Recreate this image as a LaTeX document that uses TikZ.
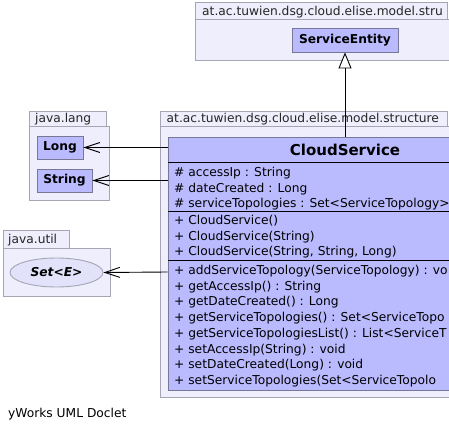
\documentclass[tikz,border=0pt]{standalone}
\usepackage{fontspec}
\setmainfont{DejaVu Sans}
\usetikzlibrary{arrows.meta,shapes.geometric}
\definecolor{pkgfill}{RGB}{238,238,252}
\definecolor{pkgline}{RGB}{165,165,182}
\definecolor{clsfill}{RGB}{186,186,255}
\definecolor{clsline}{RGB}{120,120,150}
\definecolor{elfill}{RGB}{226,226,250}
\tikzset{
  every node/.style={font=\fontsize{12.25}{14}\selectfont, inner sep=0pt},
  pkg/.style={draw=pkgline, fill=pkgfill, line width=0.9pt},
  pkgtext/.style={anchor=base west, text=black!85},
  box/.style={draw=clsline, fill=clsfill, line width=0.9pt, font=\fontsize{12.25}{14}\selectfont\bfseries},
  ell/.style={ellipse, draw=pkgline, fill=elfill, line width=0.9pt, font=\fontsize{12.25}{14}\selectfont\bfseries\itshape},
  member/.style={anchor=base west},
  sep/.style={draw=black, line width=0.9pt},
  dep/.style={draw=black, line width=0.9pt, -{Straight Barb[length=15pt,width=10pt,line width=0.9pt]}},
  inh/.style={draw=black, line width=0.9pt, -{Triangle[open,length=16pt,width=13pt,fill=white,line width=0.9pt]}},
}
\begin{document}
\begin{tikzpicture}[x=1pt,y=-1pt]
\useasboundingbox (0,0) rectangle (449,435);
\clip (0,0) rectangle (449,435);
\fill[white] (0,0) rectangle (449,435);
% top package
\draw[pkg] (195,2) rectangle (447,19.5);
\draw[pkg] (195,19.5) rectangle (495,60);
\node[pkgtext] (ptop) at (202,15.5) {at.ac.tuwien.dsg.cloud.elise.model.stru};
\node[box, minimum width=106pt, minimum height=24pt] (se) at (345,40) {ServiceEntity};
% java.lang package
\draw[pkg] (29,111) rectangle (106.5,126.5);
\draw[pkg] (29,126.5) rectangle (109.5,200);
\node[pkgtext] (plang) at (35,122.5) {java.lang};
\node[box, minimum width=46pt, minimum height=23pt] (long) at (60,147.5) {Long};
\node[box, minimum width=55pt, minimum height=23pt] (string) at (64.5,180.5) {String};
% java.util package
\draw[pkg] (3,230.5) rectangle (69,248);
\draw[pkg] (3,248) rectangle (110,296);
\node[pkgtext] (putil) at (8,243.5) {java.util};
\node[ell, minimum width=93pt, minimum height=29pt] (set) at (56.5,272.5) {Set<E>};
% main package
\draw[pkg] (160,111) rectangle (447,126.5);
\draw[pkg] (160,126.5) rectangle (540,397);
\node[pkgtext] (pmain) at (166.5,122.5) {at.ac.tuwien.dsg.cloud.elise.model.structure};
% class
\node[draw=clsline, fill=clsfill, line width=0.9pt, minimum width=354pt, minimum height=253pt] (cs) at (345,263.5) {};
\node[font=\fontsize{15}{18}\selectfont\bfseries] (title) at (345,149.5) {CloudService};
\draw[sep] (cs.west |- 0,162) -- (cs.east |- 0,162);
\draw[sep] (cs.west |- 0,211) -- (cs.east |- 0,211);
\draw[sep] (cs.west |- 0,260) -- (cs.east |- 0,260);
\node[member] (a1) at (174,176.5) {\# accessIp : String};
\node[member] (a2) at (174,192.2) {\# dateCreated : Long};
\node[member] (a3) at (174,207.9) {\# serviceTopologies : Set<ServiceTopology>};
\node[member] (c1) at (174,224.5) {+ CloudService()};
\node[member] (c2) at (174,240.2) {+ CloudService(String)};
\node[member] (c3) at (174,255.9) {+ CloudService(String, String, Long)};
\node[member] (o1) at (174,274.5) {+ addServiceTopology(ServiceTopology) : vo};
\node[member] (o2) at (174,290.2) {+ getAccessIp() : String};
\node[member] (o3) at (174,305.9) {+ getDateCreated() : Long};
\node[member] (o4) at (174,321.6) {+ getServiceTopologies() : Set<ServiceTopo};
\node[member] (o5) at (174,337.3) {+ getServiceTopologiesList() : List<ServiceT};
\node[member] (o6) at (174,353.0) {+ setAccessIp(String) : void};
\node[member] (o7) at (174,368.7) {+ setDateCreated(Long) : void};
\node[member] (o8) at (174,384.4) {+ setServiceTopologies(Set<ServiceTopolo};
% connectors
\draw[inh] (se.south |- cs.north) -- (se.south);
\draw[dep] (cs.west |- long.east) -- (long.east);
\draw[dep] (cs.west |- string.east) -- (string.east);
\draw[dep] (cs.west |- 0,272) -- (set.east);
% footer
\node[anchor=base west] (footer) at (8,417.5) {yWorks UML Doclet};
\end{tikzpicture}
\end{document}
